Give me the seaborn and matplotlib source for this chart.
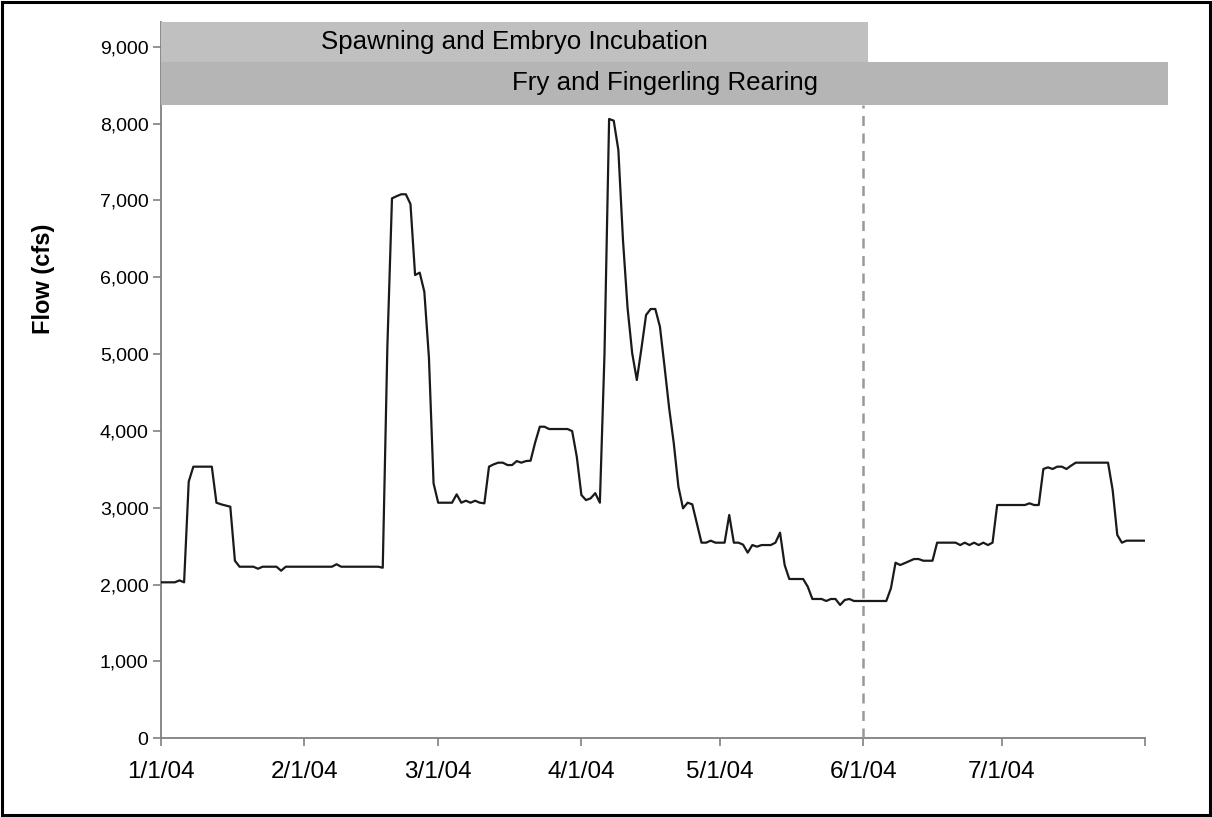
import numpy as np
import pandas as pd
import matplotlib
matplotlib.use("Agg")
import matplotlib.pyplot as plt
import matplotlib.dates as mdates
from matplotlib.patches import Rectangle
import seaborn as sns

# ---------------- data ----------------
start_date = "2004-01-01"
flow_cfs = [
    2030, 2030, 2030, 2030, 2055, 2030, 3340, 3535, 3535, 3535,   # d0-9
    3535, 3535, 3066, 3045, 3030, 3014, 2311, 2233, 2233, 2233,   # d10-19
    2233, 2207, 2233, 2233, 2233, 2233, 2181, 2233, 2233, 2233,   # d20-29
    2233, 2233, 2233, 2233, 2233, 2233, 2233, 2233, 2265, 2233,   # d30-39
    2233, 2233, 2233, 2233, 2233, 2233, 2233, 2233, 2220, 5096,   # d40-49
    7027, 7055, 7080, 7080, 6953, 6029, 6060, 5812, 4950, 3318,   # d50-59
    3066, 3066, 3066, 3066, 3175, 3066, 3092, 3066, 3092, 3066,   # d60-69
    3058, 3535, 3565, 3587, 3587, 3556, 3556, 3608, 3587, 3608,   # d70-79
    3613, 3852, 4055, 4055, 4025, 4025, 4025, 4025, 4025, 3998,   # d80-89
    3665, 3166, 3100, 3123, 3190, 3066, 5000, 8060, 8038, 7656,   # d90-99
    6485, 5596, 5010, 4663, 5075, 5509, 5587, 5587, 5357, 4836,   # d100-109
    4295, 3839, 3275, 2993, 3066, 3045, 2798, 2546, 2546, 2572,   # d110-119
    2546, 2546, 2546, 2906, 2546, 2546, 2520, 2416, 2515, 2494,   # d120-129
    2515, 2515, 2515, 2546, 2676, 2255, 2073, 2073, 2073, 2073,   # d130-139
    1973, 1813, 1813, 1813, 1787, 1813, 1813, 1735, 1800, 1813,   # d140-149
    1787, 1787, 1787, 1787, 1787, 1787, 1787, 1787, 1952, 2285,   # d150-159
    2255, 2280, 2307, 2333, 2333, 2311, 2311, 2311, 2546, 2546,   # d160-169
    2546, 2546, 2546, 2515, 2546, 2515, 2546, 2515, 2546, 2515,   # d170-179
    2546, 3036, 3036, 3036, 3036, 3036, 3036, 3036, 3058, 3036,   # d180-189
    3036, 3505, 3526, 3505, 3535, 3535, 3505, 3548, 3587, 3587,   # d190-199
    3587, 3587, 3587, 3587, 3587, 3587, 3231, 2646, 2546, 2572,   # d200-209
    2572, 2572, 2572, 2572,                                       # d210-213
]
month_ticks = ["2004-01-01", "2004-02-01", "2004-03-01", "2004-04-01",
               "2004-05-01", "2004-06-01", "2004-07-01", "2004-08-01"]
month_labels = ["1/1/04", "2/1/04", "3/1/04", "4/1/04",
                "5/1/04", "6/1/04", "7/1/04", ""]
y_ticks = [0, 1000, 2000, 3000, 4000, 5000, 6000, 7000, 8000, 9000]
period_names = ["Spawning and Embryo Incubation", "Fry and Fingerling Rearing"]
period_start = ["2004-01-01", "2004-01-01"]
period_end = ["2004-06-02", "2004-08-06"]
divider_date = "2004-06-01"

df = pd.DataFrame({
    "date": pd.date_range(start_date, periods=len(flow_cfs), freq="D"),
    "flow": flow_cfs,
})

# ---------------- style ----------------
sns.set_theme(style="white")
plt.rcParams["font.family"] = ["Liberation Sans", "DejaVu Sans"]

W, H = 1212, 817
fig = plt.figure(figsize=(W / 100, H / 100), dpi=100)
ax_left, ax_right, ax_bottom, ax_top = 161, 1145, 738.3, 22
ax = fig.add_axes([ax_left / W, 1 - ax_bottom / H,
                   (ax_right - ax_left) / W, (ax_bottom - ax_top) / H])

sns.lineplot(data=df, x="date", y="flow", ax=ax, color="#1a1a1a",
             linewidth=1.6, zorder=4)

y_top = 9322
ax.set_ylim(0, y_top)
ax.set_xlim(mdates.date2num(pd.Timestamp(month_ticks[0])),
            mdates.date2num(pd.Timestamp(month_ticks[-1])))

ax.set_yticks(y_ticks)
ax.set_yticklabels([f"{v:,}" for v in y_ticks])
ax.set_xticks([mdates.date2num(pd.Timestamp(t)) for t in month_ticks])
ax.set_xticklabels(month_labels)

ax.tick_params(axis="both", which="major", colors="#808080",
               labelcolor="black", direction="out", length=6, width=1.2,
               bottom=True, left=True)
ax.tick_params(axis="x", pad=10, labelsize=17.5)
ax.tick_params(axis="y", pad=3, labelsize=14)

for side in ["top", "right"]:
    ax.spines[side].set_visible(False)
for side in ["left", "bottom"]:
    ax.spines[side].set_color("#808080")
    ax.spines[side].set_linewidth(1.3)
    ax.spines[side].set_zorder(1)

ax.set_xlabel("")
ax.set_ylabel("Flow (cfs)", fontsize=17, fontweight="bold", color="black")
ax.yaxis.set_label_coords(-0.108, 0.642)

# period bars
bar_bands = [(8802, 9322), (8242, 8802)]
bar_colors = ["#c0c0c0", "#b5b5b5"]
for name, s, e, (y0, y1), c in zip(period_names, period_start, period_end,
                                  bar_bands, bar_colors):
    x0 = mdates.date2num(pd.Timestamp(s))
    x1 = mdates.date2num(pd.Timestamp(e))
    ax.add_patch(Rectangle((x0, y0), x1 - x0, y1 - y0, facecolor=c,
                           edgecolor="none", clip_on=False, zorder=5))
    ax.text((x0 + x1) / 2, (y0 + y1) / 2, name, ha="center", va="center",
            fontsize=18.6, color="black", zorder=6, clip_on=False)

# divider line
xd = mdates.date2num(pd.Timestamp(divider_date))
ax.plot([xd, xd], [0, bar_bands[1][0]], color="#999999", linewidth=1.8,
        linestyle=(0, (4, 3)), zorder=3, clip_on=False)

# figure border
fig.patches.append(Rectangle((2 / W, 2 / H), 1 - 4 / W, 1 - 4 / H,
                             transform=fig.transFigure, fill=False,
                             edgecolor="black", linewidth=2.2))

fig.savefig("out.png", dpi=100)
